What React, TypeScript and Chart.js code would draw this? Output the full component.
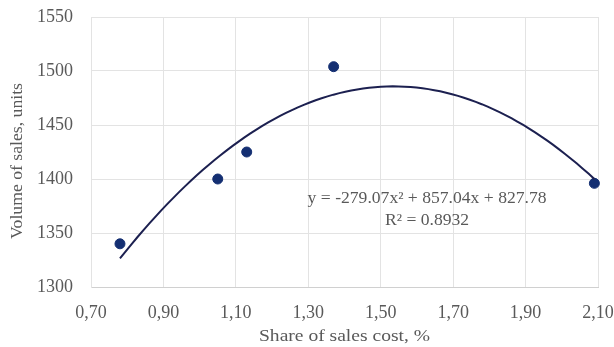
import React, { useEffect, useRef } from "react";
import { Chart, registerables } from "chart.js";

Chart.register(...registerables);

const shareOfSalesCost = [0.78, 1.05, 1.13, 1.37, 2.09];
const volumeOfSales = [1340, 1400, 1425, 1504, 1396];
// Trendline coefficients shown on the chart: y = a x^2 + b x + c
const trendCoefficients = [-279.07, 857.04, 827.78];
const equationLabel = "y = -279.07x² + 857.04x + 827.78";
const r2Label = "R² = 0.8932";
const xTitle = "Share of sales cost, %";
const yTitle = "Volume of sales, units";

const FONT = "'Liberation Serif', 'Times New Roman', serif";
const TEXT = "#595959";
const NAVY_POINT = "#142f72";
const NAVY_LINE = "#1c2050";

function trendPoints() {
  const [a, b, c] = trendCoefficients;
  const x0 = Math.min(...shareOfSalesCost);
  const x1 = Math.max(...shareOfSalesCost);
  const pts: { x: number; y: number }[] = [];
  const n = 80;
  for (let i = 0; i <= n; i++) {
    const x = x0 + ((x1 - x0) * i) / n;
    pts.push({ x, y: a * x * x + b * x + c });
  }
  return pts;
}

function stretchedText(ctx: any, text: string, x: number, y: number, sx: number, rot = 0) {
  ctx.save();
  ctx.translate(x, y);
  if (rot) ctx.rotate(rot);
  ctx.scale(sx, 1);
  ctx.fillText(text, 0, 0);
  ctx.restore();
}

const labelPlugin = {
  id: "eqLabel",
  afterDatasetsDraw(chart: any) {
    const { ctx, chartArea } = chart;
    const xs = chart.scales.x;
    const ys = chart.scales.y;
    ctx.save();
    ctx.fillStyle = TEXT;
    ctx.textAlign = "center";
    ctx.textBaseline = "middle";
    ctx.font = `16px ${FONT}`;
    const cx = xs.getPixelForValue(1.628);
    stretchedText(ctx, equationLabel, cx, ys.getPixelForValue(1382), 1.1);
    stretchedText(ctx, r2Label, cx, ys.getPixelForValue(1361), 1.1);
    // axis titles
    ctx.font = `17px ${FONT}`;
    stretchedText(ctx, xTitle, (chartArea.left + chartArea.right) / 2, 337, 1.15);
    stretchedText(ctx, yTitle, 18, (chartArea.top + chartArea.bottom) / 2 + 9, 1.04, -Math.PI / 2);
    ctx.restore();
  },
};

export default function App() {
  const ref = useRef<HTMLCanvasElement | null>(null);
  useEffect(() => {
    if (!ref.current) return;
    const chart = new Chart(ref.current, {
      type: "scatter",
      data: {
        datasets: [
          {
            type: "line",
            data: trendPoints(),
            borderColor: NAVY_LINE,
            borderWidth: 2,
            pointRadius: 0,
            tension: 0,
            fill: false,
            clip: false,
          } as any,
          {
            data: shareOfSalesCost.map((x, i) => ({ x, y: volumeOfSales[i] })),
            backgroundColor: NAVY_POINT,
            borderColor: NAVY_POINT,
            pointRadius: 5,
            pointHoverRadius: 5,
            clip: false,
          } as any,
        ],
      },
      options: {
        animation: false,
        responsive: true,
        maintainAspectRatio: false,
        layout: { autoPadding: false, padding: { top: 17, right: 16, left: 0, bottom: 0 } },
        plugins: { legend: { display: false }, tooltip: { enabled: false } },
        scales: {
          x: {
            type: "linear",
            min: 0.7,
            max: 2.1,
            grid: { color: "#e3e3e3", lineWidth: 1, drawTicks: false },
            border: { color: "#d0d0d0" },
            ticks: {
              stepSize: 0.2,
              color: TEXT,
              font: { family: FONT, size: 18 },
              padding: 15,
              callback: (v: any) => Number(v).toFixed(2).replace(".", ","),
            },
            afterFit: (s: any) => {
              s.height = 60;
              s.paddingRight = 0;
              s.paddingLeft = 0;
            },
          },
          y: {
            min: 1300,
            max: 1550,
            grid: { color: "#e3e3e3", lineWidth: 1, drawTicks: false },
            border: { color: "#e3e3e3" },
            ticks: {
              stepSize: 50,
              color: TEXT,
              font: { family: FONT, size: 18 },
              padding: 18,
              callback: (v: any) => String(v),
            },
            afterFit: (s: any) => {
              s.width = 91;
              s.paddingTop = 0;
              s.paddingBottom = 0;
            },
          },
        },
      },
      plugins: [labelPlugin],
    });
    return () => chart.destroy();
  }, []);
  return (
    <div style={{ position: "fixed", left: 0, top: 0, width: 614, height: 347, background: "#fff" }}>
      <canvas ref={ref} />
    </div>
  );
}
